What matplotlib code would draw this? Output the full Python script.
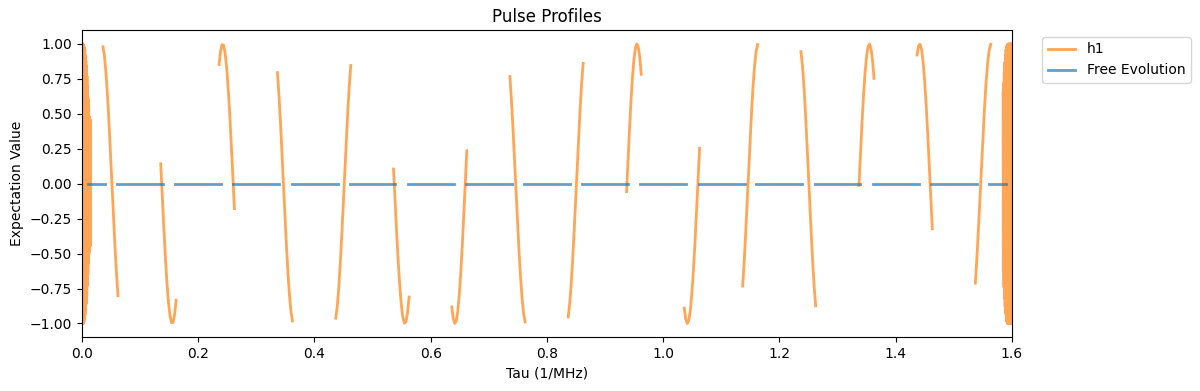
import numpy as np
import matplotlib
matplotlib.use("Agg")
import matplotlib.pyplot as plt

# ---- h1 pulse segments (tau start, tau end, sampled expectation values) ----
seg_starts = [0.0362, 0.1355, 0.2358, 0.3363, 0.4367, 0.5360, 0.6363, 0.7362,
              0.8365, 0.9370, 1.0362, 1.1367, 1.2370, 1.3368, 1.4367, 1.5370]
seg_ends = [0.0620, 0.1620, 0.2623, 0.3621, 0.4625, 0.5628, 0.6621, 0.7625,
            0.8623, 0.9622, 1.0626, 1.1625, 1.2623, 1.3627, 1.4630, 1.5635]
seg_values = [
    [0.980, 0.909, 0.790, 0.629, 0.436, 0.219, -0.009, -0.237, -0.452, -0.644, -0.801],
    [0.143, -0.086, -0.311, -0.519, -0.701, -0.845, -0.945, -0.995, -0.992, -0.937, -0.833],
    [0.853, 0.949, 0.996, 0.990, 0.932, 0.825, 0.675, 0.490, 0.277, 0.051, -0.178],
    [0.795, 0.636, 0.444, 0.228, 0.000, -0.228, -0.444, -0.636, -0.795, -0.913, -0.982],
    [-0.962, -0.874, -0.740, -0.569, -0.366, -0.143, 0.087, 0.312, 0.520, 0.701, 0.846],
    [0.105, -0.125, -0.348, -0.552, -0.728, -0.865, -0.957, -0.998, -0.987, -0.923, -0.811],
    [-0.882, -0.966, -1.000, -0.980, -0.910, -0.791, -0.631, -0.438, -0.221, 0.008, 0.236],
    [0.767, 0.601, 0.403, 0.184, -0.045, -0.272, -0.484, -0.671, -0.822, -0.930, -0.989],
    [-0.953, -0.859, -0.719, -0.542, -0.335, -0.112, 0.117, 0.341, 0.546, 0.723, 0.861],
    [-0.057, 0.172, 0.392, 0.592, 0.760, 0.888, 0.969, 1.000, 0.978, 0.904, 0.783],
    [-0.890, -0.971, -1.000, -0.976, -0.902, -0.779, -0.616, -0.420, -0.202, 0.027, 0.254],
    [-0.732, -0.558, -0.353, -0.131, 0.098, 0.323, 0.530, 0.709, 0.851, 0.949, 0.996],
    [0.945, 0.845, 0.701, 0.520, 0.311, 0.087, -0.142, -0.364, -0.567, -0.740, -0.874],
    [-0.012, 0.216, 0.433, 0.627, 0.788, 0.908, 0.979, 1.000, 0.967, 0.884, 0.754],
    [0.921, 0.986, 0.998, 0.958, 0.868, 0.732, 0.557, 0.353, 0.130, -0.099, -0.323],
    [-0.712, -0.533, -0.326, -0.102, 0.127, 0.350, 0.554, 0.730, 0.866, 0.957, 0.998],
]

# dense fast oscillation at both ends of the sequence
left_dense_range = (0.0, 0.0145)
left_dense_values = [1.0, -1.0, 1.0, -1.0, 1.0, -1.0, 0.99, -0.99, 0.98, -0.97, 0.96,
                     -0.94, 0.92, -0.90, 0.88, -0.86, 0.84, -0.81, 0.77, -0.73, 0.69,
                     -0.65, 0.61, -0.57, 0.53, -0.50, 0.48, -0.47, 0.46, -0.45, 0.45]
right_dense_range = (1.5847, 1.6)
right_dense_values = [0.65, -0.63, 0.72, -0.74, 0.80, -0.82, 0.87, -0.88, 0.92, -0.93,
                      0.96, -0.97, 0.98, -0.99, 0.99, -1.0, 1.0, -1.0, 1.0, -1.0, 1.0,
                      -1.0, 1.0, -1.0, 1.0, -1.0, 1.0, -1.0, 1.0, -1.0, 1.0]

# ---- free evolution intervals (value 0) ----
free_starts = [0.010, 0.060, 0.160, 0.260, 0.361, 0.461, 0.561, 0.660, 0.761,
               0.861, 0.960, 1.061, 1.160, 1.261, 1.361, 1.460, 1.561]
free_ends = [0.040, 0.139, 0.240, 0.339, 0.440, 0.539, 0.640, 0.739, 0.840,
             0.940, 1.039, 1.140, 1.239, 1.339, 1.440, 1.540, 1.590]
free_value = 0.0

# ---- build line arrays ----
hx, hy = [], []
def add(xs, ys):
    hx.extend(list(xs) + [np.nan])
    hy.extend(list(ys) + [np.nan])

add(np.linspace(*left_dense_range, len(left_dense_values)), left_dense_values)
for s, e, v in zip(seg_starts, seg_ends, seg_values):
    add(np.linspace(s, e, len(v)), v)
add(np.linspace(*right_dense_range, len(right_dense_values)), right_dense_values)

fx, fy = [], []
for s, e in zip(free_starts, free_ends):
    fx.extend([s, e, np.nan])
    fy.extend([free_value, free_value, np.nan])

fig = plt.figure(figsize=(12, 3.91), dpi=100)
ax = fig.add_axes([0.0683, 0.1370, 0.7750, 0.7863])
ax.plot(hx, hy, color="tab:orange", alpha=0.7, lw=2, label="h1")
ax.plot(fx, fy, color="tab:blue", alpha=0.7, lw=2, label="Free Evolution")
ax.set_xlim(0, 1.6)
ax.set_ylim(-1.1, 1.1)
ax.set_yticks(np.arange(-1.0, 1.01, 0.25))
ax.set_title("Pulse Profiles")
ax.set_xlabel("Tau (1/MHz)")
ax.set_ylabel("Expectation Value")
ax.legend(loc="upper left", bbox_to_anchor=(1.025, 1.0))
fig.savefig("out.png", dpi=100)
